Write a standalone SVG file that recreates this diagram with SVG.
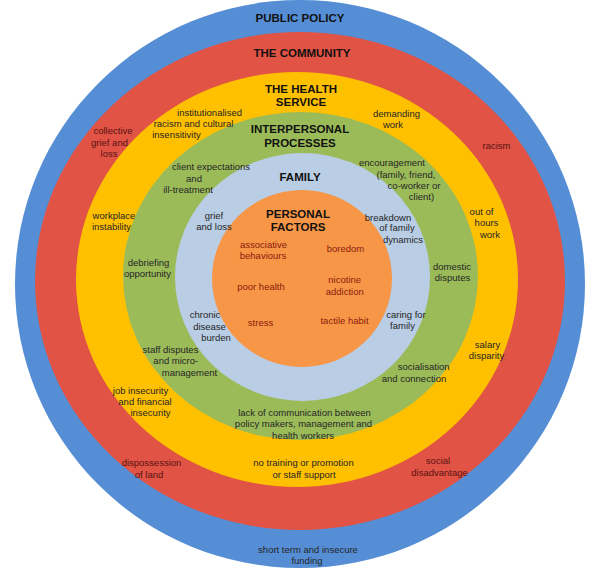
<svg xmlns="http://www.w3.org/2000/svg" width="600" height="568" viewBox="0 0 600 568">
<style>
text{font-family:"Liberation Sans",Arial,sans-serif;text-anchor:middle}
.t{font-size:11.5px;font-weight:bold;fill:#111}
.l{font-size:9.5px;fill:#262626}
.r{font-size:9.5px;fill:#5a1212}
.o{font-size:9.5px;fill:#8a1c10}
</style>
<rect width="600" height="568" fill="#ffffff"/>
<g id="rings">
<ellipse id="ring-public-policy" cx="300" cy="284" rx="285" ry="284" fill="#558ED5"/>
<ellipse id="ring-community" cx="300" cy="281" rx="265" ry="249" fill="#E05345"/>
<ellipse id="ring-health-service" cx="297" cy="279.5" rx="221" ry="207.5" fill="#FFC000"/>
<ellipse id="ring-interpersonal" cx="300.5" cy="276" rx="177.5" ry="164" fill="#9BBB59"/>
<ellipse id="ring-family" cx="302.5" cy="277" rx="127.5" ry="124" fill="#B9CDE5"/>
<ellipse id="ring-personal" cx="302" cy="278.5" rx="90" ry="88.5" fill="#F79646"/>
</g>
<g id="public-policy">
<text class="t" x="300" y="22">PUBLIC POLICY</text>
<text class="l" x="308" y="552.5">short term and insecure</text>
<text class="l" x="307" y="564">funding</text>
</g>
<g id="the-community">
<text class="t" x="302" y="57">THE COMMUNITY</text>
<text class="r" x="113" y="134">collective</text>
<text class="r" x="109.5" y="145.5">grief and</text>
<text class="r" x="109" y="156.5">loss</text>
<text class="r" x="496.5" y="149">racism</text>
<text class="r" x="151.5" y="466">dispossession</text>
<text class="r" x="149" y="477.5">of land</text>
<text class="r" x="438" y="464">social</text>
<text class="r" x="439.5" y="475.5">disadvantage</text>
</g>
<g id="the-health-service">
<text class="t" x="301" y="93">THE HEALTH</text>
<text class="t" x="301" y="105.5">SERVICE</text>
<text class="l" x="209.5" y="116">institutionalised</text>
<text class="l" x="193.5" y="126.5">racism and cultural</text>
<text class="l" x="176.5" y="138">insensitivity</text>
<text class="l" x="396.5" y="117">demanding</text>
<text class="l" x="393" y="127.5">work</text>
<text class="l" x="114" y="219">workplace</text>
<text class="l" x="111.5" y="230">instability</text>
<text class="l" x="481.5" y="215">out of</text>
<text class="l" x="486.5" y="226">hours</text>
<text class="l" x="490" y="237.5">work</text>
<text class="l" x="487.5" y="347.5">salary</text>
<text class="l" x="486.5" y="358.5">disparity</text>
<text class="l" x="140.5" y="393.5">job insecurity</text>
<text class="l" x="145" y="404.5">and financial</text>
<text class="l" x="150.5" y="415.5">insecurity</text>
<text class="l" x="303.5" y="465.5">no training or promotion</text>
<text class="l" x="304" y="477.5">or staff support</text>
</g>
<g id="interpersonal-processes">
<text class="t" x="300" y="133">INTERPERSONAL</text>
<text class="t" x="300" y="146.5">PROCESSES</text>
<text class="l" x="211" y="170">client expectations</text>
<text class="l" x="194" y="181.5">and</text>
<text class="l" x="188" y="192.5">ill-treatment</text>
<text class="l" x="392" y="166">encouragement</text>
<text class="l" x="406" y="177.5">(family, friend,</text>
<text class="l" x="414" y="189">co-worker or</text>
<text class="l" x="421.5" y="200">client)</text>
<text class="l" x="148.5" y="265.5">debriefing</text>
<text class="l" x="147.5" y="277">opportunity</text>
<text class="l" x="452" y="270">domestic</text>
<text class="l" x="452.5" y="281">disputes</text>
<text class="l" x="170.5" y="352.5">staff disputes</text>
<text class="l" x="175.8" y="364">and micro-</text>
<text class="l" x="189.5" y="375.5">management</text>
<text class="l" x="423.7" y="370">socialisation</text>
<text class="l" x="414" y="381.5">and connection</text>
<text class="l" x="304.5" y="415.5">lack of communication between</text>
<text class="l" x="303.5" y="427">policy makers, management and</text>
<text class="l" x="303" y="439">health workers</text>
</g>
<g id="family">
<text class="t" x="300" y="181">FAMILY</text>
<text class="l" x="214" y="219">grief</text>
<text class="l" x="214" y="229.5">and loss</text>
<text class="l" x="388" y="220.5">breakdown</text>
<text class="l" x="397" y="230.5">of family</text>
<text class="l" x="403" y="242.5">dynamics</text>
<text class="l" x="205" y="318">chronic</text>
<text class="l" x="209.5" y="329.5">disease</text>
<text class="l" x="216" y="341">burden</text>
<text class="l" x="406" y="317.5">caring for</text>
<text class="l" x="402.5" y="329">family</text>
</g>
<g id="personal-factors">
<text class="t" x="298" y="217.5">PERSONAL</text>
<text class="t" x="298" y="231">FACTORS</text>
<text class="o" x="263.5" y="247.5">associative</text>
<text class="o" x="263" y="259">behaviours</text>
<text class="o" x="345.5" y="252">boredom</text>
<text class="o" x="261" y="290">poor health</text>
<text class="o" x="344.7" y="283">nicotine</text>
<text class="o" x="344.7" y="295">addiction</text>
<text class="o" x="260.5" y="325.5">stress</text>
<text class="o" x="344.5" y="324">tactile habit</text>
</g>
</svg>
